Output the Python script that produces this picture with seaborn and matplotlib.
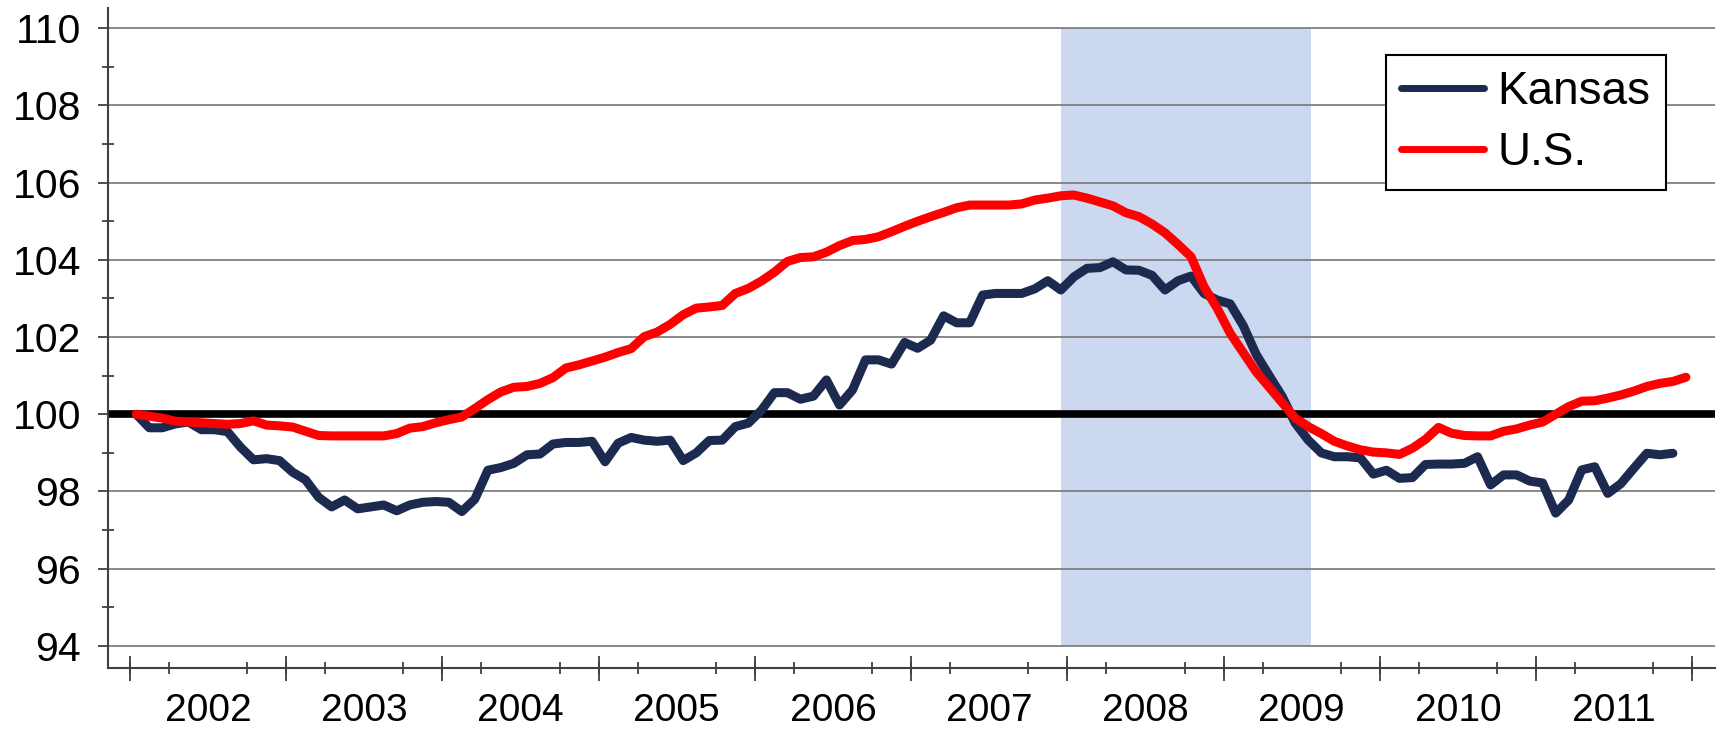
import numpy as np
import pandas as pd
import seaborn as sns
import matplotlib.pyplot as plt
from matplotlib.ticker import FixedLocator

# monthly index values, Jan 2002 = 100 (Kansas runs to Nov 2011, U.S. to Dec 2011)
kansas = [100.0, 99.65, 99.65, 99.75, 99.8, 99.6, 99.6, 99.55, 99.15, 98.82, 98.85, 98.8,
          98.5, 98.3, 97.85, 97.6, 97.78, 97.55, 97.6, 97.65, 97.5, 97.65, 97.72, 97.74,
          97.72, 97.48, 97.8, 98.55, 98.62, 98.73, 98.95, 98.97, 99.23, 99.27, 99.27, 99.3,
          98.77, 99.25, 99.4, 99.33, 99.3, 99.33, 98.8, 99.0, 99.32, 99.33, 99.68, 99.77,
          100.1, 100.56, 100.56, 100.39, 100.47, 100.89, 100.24, 100.63, 101.41, 101.41, 101.3, 101.86,
          101.71, 101.92, 102.55, 102.37, 102.37, 103.09, 103.13, 103.13, 103.13, 103.25, 103.46, 103.22,
          103.56, 103.78, 103.8, 103.95, 103.74, 103.73, 103.6, 103.22, 103.46, 103.58, 103.13, 102.96,
          102.86, 102.3, 101.55, 101.0, 100.46, 99.77, 99.33, 99.0, 98.9, 98.9, 98.87, 98.45,
          98.55, 98.34, 98.36, 98.7, 98.71, 98.71, 98.73, 98.9, 98.17, 98.43, 98.43, 98.27,
          98.22, 97.44, 97.78, 98.56, 98.64, 97.95, 98.2, 98.6, 98.99, 98.95, 98.99]
us = [100.0, 99.95, 99.9, 99.82, 99.8, 99.78, 99.76, 99.74, 99.76, 99.83, 99.72, 99.7,
      99.67, 99.56, 99.45, 99.44, 99.44, 99.44, 99.44, 99.44, 99.5, 99.64, 99.68, 99.78,
      99.86, 99.93, 100.15, 100.38, 100.58, 100.7, 100.72, 100.8, 100.95, 101.2, 101.28, 101.38,
      101.48, 101.6, 101.7, 102.01, 102.13, 102.33, 102.58, 102.75, 102.78, 102.82, 103.13, 103.26,
      103.45, 103.68, 103.96, 104.06, 104.08, 104.2, 104.37, 104.5, 104.53, 104.6, 104.73, 104.87,
      105.0, 105.12, 105.23, 105.35, 105.42, 105.42, 105.42, 105.42, 105.45, 105.55, 105.6, 105.66,
      105.68, 105.6, 105.5, 105.4, 105.22, 105.12, 104.93, 104.7, 104.4, 104.08, 103.3, 102.75,
      102.1, 101.6, 101.1, 100.7, 100.3, 99.9, 99.68, 99.5, 99.3, 99.18, 99.08, 99.02,
      99.0, 98.96, 99.12, 99.35, 99.66, 99.51, 99.45, 99.44, 99.44, 99.56, 99.62, 99.72,
      99.8, 100.0, 100.2, 100.34, 100.35, 100.42, 100.5, 100.6, 100.72, 100.8, 100.85, 100.96]
years = [str(y) for y in range(2002, 2012)]
recession = [71, 90.2]  # Dec 2007 -> mid 2009, in month index

sns.set_style('white')
plt.rcParams['font.family'] = ['Liberation Sans', 'DejaVu Sans']
plt.rcParams['text.color'] = 'black'

df = pd.concat([
    pd.DataFrame({'month': np.arange(len(kansas)), 'value': kansas, 'area': 'Kansas'}),
    pd.DataFrame({'month': np.arange(len(us)), 'value': us, 'area': 'U.S.'}),
])

fig = plt.figure(figsize=(17.23, 7.29), dpi=100)
ax = fig.add_axes([0.0627, 0.0841, 0.9327, 0.9044])

ax.fill_between(recession, 94, 110, color='#cbd8ef', lw=0, zorder=0)
ax.axhline(100, color='black', lw=5.5, zorder=2)
sns.lineplot(data=df, x='month', y='value', hue='area',
             palette={'Kansas': '#1c2a4f', 'U.S.': '#ff0000'},
             lw=6.5, ax=ax, zorder=3, solid_joinstyle='round', solid_capstyle='round')

ax.set_xlim(-2.17, 121.24)
ax.set_ylim(93.435, 110.515)
ax.set_xlabel('')
ax.set_ylabel('')

# y axis
ax.set_yticks(range(94, 111, 2))
ax.yaxis.set_minor_locator(FixedLocator(range(95, 110, 2)))
ax.yaxis.grid(True, color='#7f7f7f', lw=1.3)
ax.tick_params(axis='y', which='major', direction='out', length=7.5, width=1.3,
               color='#404040', pad=12, labelsize=29.5, labelcolor='black', left=True)
ax.tick_params(axis='y', which='minor', direction='inout', length=9, width=1.3,
               color='#404040', left=True)

# x axis: year labels in the middle, ticks at quarters and year boundaries
ax.set_xticks([5.5 + 12 * k for k in range(len(years))], years)
ax.tick_params(axis='x', which='major', length=0, pad=18, labelsize=28, labelcolor='black')
ax.xaxis.set_minor_locator(FixedLocator(np.arange(-0.5, 120, 3)))
ax.tick_params(axis='x', which='minor', direction='inout', length=8.6, width=1.3,
               color='#404040', bottom=True)
sec = ax.secondary_xaxis('bottom')
sec.set_xticks(np.arange(-0.5, 121, 12))
sec.tick_params(direction='inout', length=18, width=1.3, color='#404040', labelbottom=False)
sec.spines['bottom'].set_visible(False)

for s in ['top', 'right']:
    ax.spines[s].set_visible(False)
for s in ['left', 'bottom']:
    ax.spines[s].set_color('#404040')
    ax.spines[s].set_linewidth(1.5)

handles, labels = ax.get_legend_handles_labels()
leg = ax.legend(handles, labels, loc='upper left', bbox_to_anchor=(0.7953, 0.929),
                fontsize=33, frameon=True, fancybox=False, edgecolor='black',
                framealpha=1, handlelength=1.8, handletextpad=0.3, borderpad=0.33,
                labelspacing=0.36, borderaxespad=0)
leg.get_frame().set_linewidth(1.5)
for line in leg.get_lines():
    line.set_linewidth(5)

plt.savefig('out.png', dpi=100)
